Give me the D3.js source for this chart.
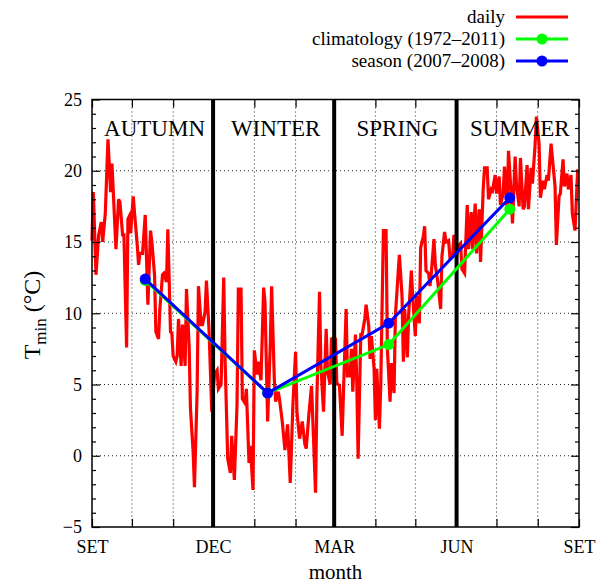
<!DOCTYPE html>
<html>
<head>
<meta charset="utf-8">
<script src="https://cdn.jsdelivr.net/npm/d3@7"></script>
<style>
  body { margin: 0; background: #fff; }
  svg { display: block; }
  svg text { font-family: "Liberation Serif", "DejaVu Serif", serif; }
</style>
</head>
<body>
<svg id="chart" width="597" height="585"></svg>
<script>
// daily Tmin, [days after 1 Sep 2007, value]
const dailyTmin = [
  [0,15.1],[1,18.5],[3,12.7],[5,15.5],[7,16.4],[8,15.0],[10,17.0],[12,22.2],[14,18.5],[15,20.5],
  [16,18.5],[18,14.5],[20,18.0],[21,17.8],[23,15.5],[24,15.5],[26,7.6],[27,16.6],[28,16.8],[29,15.6],
  [31,18.2],[32,17.0],[34,14.8],[35,13.4],[36,14.2],[38,14.2],[40,16.9],[42,10.6],[44,15.8],[45,15.0],
  [47,12.7],[48,8.7],[50,8.2],[51,10.3],[53,12.7],[54,12.8],[56,12.2],[57,15.9],[59,8.7],[60,8.6],
  [61,7.0],[63,6.6],[64,7.0],[65,9.6],[67,6.3],[68,9.2],[70,6.3],[71,11.7],[73,7.7],[74,3.3],
  [76,0.3],[77,-2.2],[79,4.5],[80,11.9],[82,9.2],[83,9.2],[85,10.1],[86,12.3],[88,8.7],[90,3.1],
  [92,5.7],[94,6.0],[95,4.7],[97,5.0],[99,12.5],[100,6.8],[102,-0.2],[104,-1.2],[105,1.4],[107,-1.7],
  [109,3.6],[110,11.7],[112,11.7],[113,4.0],[115,3.7],[116,4.7],[118,-0.5],[119,0.7],[121,-2.4],[122,7.4],
  [124,5.7],[125,6.6],[127,5.3],[129,11.8],[130,10.8],[132,2.4],[134,7.9],[135,11.9],[137,5.4],[138,3.8],
  [140,4.5],[141,3.9],[143,2.4],[145,0.4],[147,2.2],[149,-1.9],[151,3.6],[153,7.3],[154,3.1],[156,1.2],
  [158,2.4],[160,0.8],[161,0.5],[163,2.9],[165,4.9],[166,2.4],[168,-2.6],[169,4.0],[171,11.5],[172,6.4],
  [174,3.1],[176,8.9],[177,5.9],[179,5.0],[180,8.2],[182,8.3],[183,8.2],[184,5.1],[186,4.9],[188,1.4],
  [189,4.5],[191,10.3],[192,5.6],[194,5.6],[195,7.5],[196,4.5],[198,8.5],[199,5.1],[200,-0.2],[202,8.5],
  [203,8.5],[205,9.6],[206,10.6],[208,9.1],[209,6.8],[210,8.4],[212,6.1],[213,2.5],[214,6.1],[216,1.9],
  [217,4.9],[219,15.8],[221,15.8],[222,7.5],[224,3.8],[225,6.5],[227,4.4],[228,9.8],[230,12.7],[231,14.1],
  [233,11.2],[234,6.6],[235,10.3],[237,6.9],[238,9.9],[240,13.0],[241,11.2],[243,8.4],[244,11.2],[246,9.3],
  [247,14.6],[249,15.4],[250,16.1],[251,13.0],[253,12.8],[254,11.9],[255,12.8],[257,15.2],[258,13.4],[260,12.1],
  [262,10.3],[263,14.0],[265,15.7],[266,15.0],[268,15.1],[269,13.9],[271,14.0],[272,15.5],[274,14.0],[275,14.7],
  [277,14.9],[278,13.1],[280,12.8],[282,17.6],[283,14.5],[285,17.1],[286,14.5],[288,17.7],[289,14.2],[291,17.3],
  [292,13.6],[294,18.7],[295,20.2],[297,20.2],[298,18.0],[300,18.7],[301,18.6],[303,19.7],[304,18.4],[306,19.6],
  [307,17.6],[309,18.4],[310,20.3],[312,17.3],[313,21.4],[315,18.4],[316,16.3],[318,21.0],[319,19.0],[321,17.5],
  [322,20.9],[324,17.3],[325,17.5],[327,20.4],[328,17.3],[330,20.2],[331,19.1],[333,21.8],[334,23.8],[336,21.9],
  [337,18.1],[339,19.3],[340,18.7],[342,19.7],[343,19.3],[345,21.9],[346,20.9],[348,18.9],[349,14.8],[351,18.2],
  [352,18.4],[354,20.8],[355,18.9],[357,19.8],[358,18.7],[360,19.7],[361,17.0],[363,15.8],[365,20.1]
];

// seasonal means, placed mid-season
const seasonDays = [40, 132, 223, 314];
const climatology = [12.3, 4.4, 7.8, 17.3];
const season0708 = [12.4, 4.4, 9.3, 18.1];

const seasonNames = ["AUTUMN", "WINTER", "SPRING", "SUMMER"];
const monthLabels = {8: "SET", 11: "DEC", 2: "MAR", 5: "JUN"};
const yMajor = [-5, 0, 5, 10, 15, 20, 25];

const svg = d3.select("#chart");
const plotL = 92, plotR = 579, plotT = 99.5, plotB = 527;

const start = new Date(Date.UTC(2007, 8, 1));
const end = new Date(Date.UTC(2008, 8, 1));
const day = d => d3.utcDay.offset(start, d);

const x = d3.scaleUtc().domain([start, end]).range([plotL, plotR]);
const y = d3.scaleLinear().domain([-5, 25]).range([plotB, plotT]);

const months = d3.utcMonth.range(start, d3.utcDay.offset(end, 1));
const seasonStarts = months.filter(m => [11, 2, 5].includes(m.getUTCMonth()));

// dotted grid
const grid = svg.append("g")
  .attr("stroke", "#000")
  .attr("stroke-width", 1)
  .attr("stroke-dasharray", "1,3")
  .attr("opacity", 0.85);
grid.selectAll(".gy")
  .data(yMajor.slice(1, -1))
  .join("line")
  .attr("x1", plotL).attr("x2", plotR)
  .attr("y1", d => y(d)).attr("y2", d => y(d));
grid.selectAll(".gx")
  .data(months.filter(m => m > start && m < end && !seasonStarts.includes(m)))
  .join("line")
  .attr("x1", d => x(d)).attr("x2", d => x(d))
  .attr("y1", plotT).attr("y2", plotB);

// daily line
const line = d3.line().x(d => x(day(d[0]))).y(d => y(d[1]));
svg.append("path")
  .datum(dailyTmin)
  .attr("fill", "none")
  .attr("stroke", "#ff0000")
  .attr("stroke-width", 3.2)
  .attr("d", line);

// season separators
svg.append("g").selectAll("line")
  .data(seasonStarts)
  .join("line")
  .attr("x1", d => x(d)).attr("x2", d => x(d))
  .attr("y1", plotT).attr("y2", plotB)
  .attr("stroke", "#000")
  .attr("stroke-width", 4);

// season labels
const bounds = [start, ...seasonStarts, end];
svg.append("g").selectAll("text")
  .data(seasonNames)
  .join("text")
  .attr("x", (d, i) => (x(bounds[i]) + x(bounds[i + 1])) / 2 + 2)
  .attr("y", 136)
  .attr("text-anchor", "middle")
  .attr("font-size", 23)
  .text(d => d);

// seasonal lines
function seasonLine(values, color) {
  const pts = seasonDays.map((d, i) => [d, values[i]]);
  const g = svg.append("g");
  g.append("path")
    .datum(pts)
    .attr("fill", "none")
    .attr("stroke", color)
    .attr("stroke-width", 3)
    .attr("d", line);
  g.selectAll("circle")
    .data(pts)
    .join("circle")
    .attr("cx", d => x(day(d[0])))
    .attr("cy", d => y(d[1]))
    .attr("r", 5.5)
    .attr("fill", color);
}
seasonLine(climatology, "#00ff00");
seasonLine(season0708, "#0000ff");

// frame
svg.append("rect")
  .attr("x", plotL).attr("y", plotT)
  .attr("width", plotR - plotL).attr("height", plotB - plotT)
  .attr("fill", "none")
  .attr("stroke", "#000")
  .attr("stroke-width", 1.5);

// axes, ticks pointing inward
const axisStyle = g => {
  g.attr("font-family", null).attr("font-size", 18);
  g.select(".domain").remove();
  g.selectAll("line").attr("stroke", "#000").attr("stroke-width", 1.2);
  g.selectAll("text").attr("fill", "#000");
};
svg.append("g")
  .attr("transform", `translate(${plotL},0)`)
  .call(d3.axisLeft(y).tickValues(yMajor).tickSize(-8).tickPadding(10).tickFormat(d => d < 0 ? "\u2212" + (-d) : d))
  .call(axisStyle);
svg.append("g")
  .attr("transform", `translate(${plotR},0)`)
  .call(d3.axisRight(y).tickValues(yMajor).tickSize(-8).tickFormat(""))
  .call(axisStyle);
const yMinor = d3.range(-5, 26).filter(v => v % 5 !== 0);
svg.append("g")
  .attr("transform", `translate(${plotL},0)`)
  .call(d3.axisLeft(y).tickValues(yMinor).tickSize(-4).tickFormat(""))
  .call(axisStyle);
svg.append("g")
  .attr("transform", `translate(${plotR},0)`)
  .call(d3.axisRight(y).tickValues(yMinor).tickSize(-4).tickFormat(""))
  .call(axisStyle);
svg.append("g")
  .attr("transform", `translate(0,${plotB})`)
  .call(d3.axisBottom(x).tickValues(months).tickSize(-8).tickPadding(13)
    .tickFormat(d => monthLabels[d.getUTCMonth()] || ""))
  .call(axisStyle);
svg.append("g")
  .attr("transform", `translate(0,${plotT})`)
  .call(d3.axisTop(x).tickValues(months).tickSize(-8).tickFormat(""))
  .call(axisStyle);

// axis titles
svg.append("text")
  .attr("x", (plotL + plotR) / 2)
  .attr("y", 579)
  .attr("text-anchor", "middle")
  .attr("font-size", 21)
  .text("month");

const ylab = svg.append("text")
  .attr("transform", "translate(40,315) rotate(-90)")
  .attr("text-anchor", "middle")
  .attr("font-size", 24);
ylab.append("tspan").text("T");
ylab.append("tspan").attr("font-size", 17).attr("dy", 6).text("min");
ylab.append("tspan").attr("dy", -6).text(" (\u00b0C)");

// legend
const legendItems = [
  {label: "daily", color: "#ff0000", marker: false},
  {label: "climatology (1972\u20132011)", color: "#00ff00", marker: true},
  {label: "season (2007\u20132008)", color: "#0000ff", marker: true}
];
const legend = svg.append("g").selectAll("g")
  .data(legendItems)
  .join("g")
  .attr("transform", (d, i) => `translate(0,${17 + i * 22})`);
legend.append("text")
  .attr("x", 505).attr("y", 6)
  .attr("text-anchor", "end")
  .attr("font-size", 19)
  .text(d => d.label);
legend.append("line")
  .attr("x1", 516).attr("x2", 568)
  .attr("stroke", d => d.color)
  .attr("stroke-width", 3);
legend.filter(d => d.marker).append("circle")
  .attr("cx", 542).attr("r", 5.5)
  .attr("fill", d => d.color);
</script>
</body>
</html>
